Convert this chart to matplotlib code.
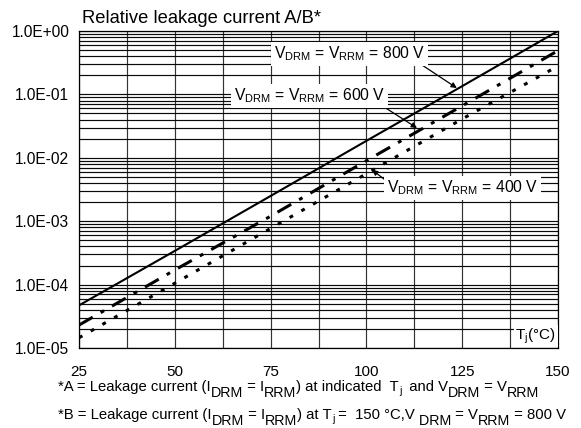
import matplotlib
matplotlib.use("Agg")
import matplotlib.pyplot as plt
import matplotlib.transforms as mtransforms
from matplotlib.ticker import FixedLocator, NullFormatter
import numpy as np

plt.rcParams['font.family'] = ['Liberation Sans', 'DejaVu Sans']
plt.rcParams['mathtext.fontset'] = 'custom'
plt.rcParams['mathtext.rm'] = 'Liberation Sans'
plt.rcParams['mathtext.it'] = 'Liberation Sans:italic'
plt.rcParams['mathtext.bf'] = 'Liberation Sans:bold'
plt.rcParams['lines.scale_dashes'] = False

# ---- data ----
temps = [25, 50, 75, 100, 125, 150]
i_800 = [4.7e-5, 3.4e-4, 2.5e-3, 1.85e-2, 0.135, 1.0]
i_600 = [2.3e-5, 1.7e-4, 1.2e-3, 9.0e-3, 6.6e-2, 0.49]
i_400 = [1.45e-5, 1.05e-4, 7.7e-4, 5.6e-3, 4.1e-2, 0.28]
x_ticks = [25, 50, 75, 100, 125, 150]
y_ticks = [1e-5, 1e-4, 1e-3, 1e-2, 1e-1, 1e0]
y_tick_labels = ['1.0E-05', '1.0E-04', '1.0E-03', '1.0E-02', '1.0E-01', '1.0E+00']

W, H = 581, 428
fig = plt.figure(figsize=(W / 100, H / 100), dpi=100)
L, R, T, B = 79, 558, 31, 348
ax = fig.add_axes([L / W, 1 - B / H, (R - L) / W, (B - T) / H])

ax.set_yscale('log')
ax.set_xlim(25, 150)
ax.set_ylim(1e-5, 1)

ax.set_xticks(x_ticks)
ax.set_xticks(np.arange(37.5, 150, 25), minor=True)
ax.set_yticks(y_ticks)
ax.set_yticklabels(y_tick_labels)
minor_y = [m * 10.0 ** e for e in range(-5, 0) for m in range(2, 10)]
ax.yaxis.set_minor_locator(FixedLocator(minor_y))
ax.yaxis.set_minor_formatter(NullFormatter())
ax.tick_params(which='both', length=0)
ax.tick_params(axis='x', pad=12, labelsize=11)
ax.tick_params(axis='y', pad=7, labelsize=11.2)

ax.xaxis.grid(True, which='both', color='#333333', lw=0.85)
ax.yaxis.grid(True, which='both', color='#0a0a0a', lw=0.85)
ax.set_axisbelow(True)
for s in ax.spines.values():
    s.set_linewidth(0.9)
    s.set_color('black')

ax.plot(temps, i_800, color='black', lw=1.5, solid_capstyle='butt', zorder=3)
ax.plot(temps, i_600, color='black', lw=2.2, dashes=(11.4, 6.6, 2.8, 6.6), zorder=3)
ax.plot(temps, i_400, color='black', lw=2.2, dashes=(2.8, 6.9), zorder=3)

box = dict(boxstyle='square,pad=0.18', fc='white', ec='none')
pix = mtransforms.IdentityTransform()
def fx(px):
    return px / W
def fy(py):
    return 1 - py / H

lab_kw = dict(fontsize=11.3, va='center', ha='left', bbox=box, zorder=5)
fig.text(fx(274), fy(54), r'V$_{\mathrm{DRM}}$ = V$_{\mathrm{RRM}}$ = 800 V', **lab_kw)
fig.text(fx(234), fy(96), r'V$_{\mathrm{DRM}}$ = V$_{\mathrm{RRM}}$ = 600 V', **lab_kw)
fig.text(fx(387), fy(188), r'V$_{\mathrm{DRM}}$ = V$_{\mathrm{RRM}}$ = 400 V', **lab_kw)

arrow = dict(arrowstyle='-|>', color='black', lw=0.9, mutation_scale=8, shrinkA=0, shrinkB=0)
ax.annotate('', xy=(123.6, 0.126), xytext=(114.5, 0.291), arrowprops=arrow, zorder=6)
ax.annotate('', xy=(113.2, 0.0295), xytext=(103.0, 0.0731), arrowprops=arrow, zorder=6)
ax.annotate('', xy=(101.5, 0.00645), xytext=(104.9, 0.00447), arrowprops=arrow, zorder=6)

fig.text(fx(556), fy(336), r'T$_{\mathrm{j}}$(°C)', fontsize=11, ha='right', va='center',
         bbox=dict(boxstyle='square,pad=0.12', fc='white', ec='none'), zorder=5)

fig.text(fx(82), fy(23), 'Relative leakage current A/B*', fontsize=13.2, ha='left', va='baseline')

# ---- footnotes with large subscripts ----
renderer = fig.canvas.get_renderer()

def piece_width(s, size):
    t1 = fig.text(0, 0, '|' + s + '|', fontsize=size, transform=pix)
    t2 = fig.text(0, 0, '||', fontsize=size, transform=pix)
    w = t1.get_window_extent(renderer).width - t2.get_window_extent(renderer).width
    t1.remove(); t2.remove()
    return w

def rich_line(x0, baseline_px, pieces):
    x = x0
    ybase = H - baseline_px
    for s, size, dy in pieces:
        fig.text(x, ybase - dy, s, fontsize=size, transform=pix, ha='left', va='baseline')
        x += piece_width(s, size)

N, S, s = 10.7, 10.3, 7.5
sub, ssub = 6, 3
rich_line(58, 391, [
    ('*A = Leakage current (I', N, 0), ('DRM', S, sub), (' = I', N, 0), ('RRM', S, sub),
    (') at indicated  T', N, 0), ('j', s, ssub), ('  and V', N, 0), ('DRM', S, sub),
    (' = V', N, 0), ('RRM', S, sub)])
rich_line(58, 419, [
    ('*B = Leakage current (I', N, 0), ('DRM', S, sub), (' = I', N, 0), ('RRM', S, sub),
    (') at T', N, 0), ('j', s, ssub), (' =  150 °C,V', N, 0), (' DRM', S, sub),
    (' = V', N, 0), ('RRM', S, sub), (' = 800 V', N, 0)])

fig.savefig('out.png', dpi=100)
